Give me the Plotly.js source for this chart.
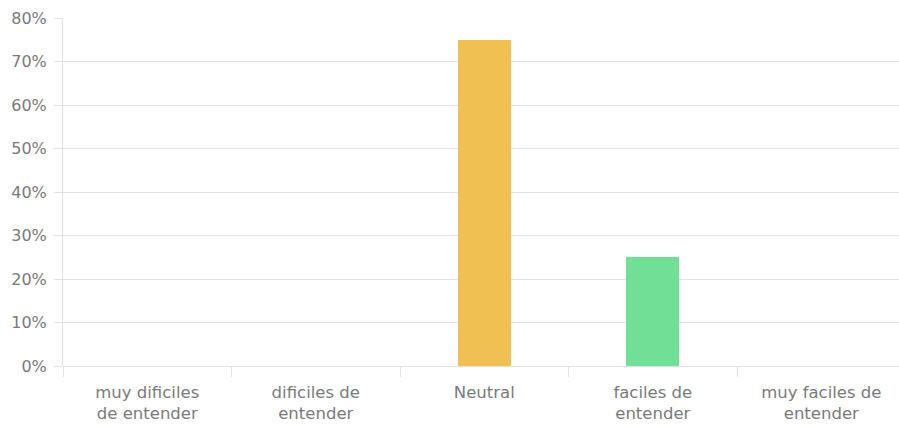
<!DOCTYPE html>
<html>
<head>
<meta charset="utf-8">
<script src="https://cdn.plot.ly/plotly-3.0.1.min.js"></script>
<style>
  html, body { margin: 0; padding: 0; background: #fff; }
  #chart { width: 899px; height: 430px; }
</style>
</head>
<body>
<div id="chart"></div>
<script>
// Answer categories and share of responses (%)
const categories = [
  "muy dificiles<br>de entender",
  "dificiles de<br>entender",
  "Neutral",
  "faciles de<br>entender",
  "muy faciles de<br>entender"
];
const percentages = [0, 0, 75, 25, 0];
const barColors = ["#F0C052", "#F0C052", "#F0C052", "#71E096", "#71E096"];
const yTickValues = [0, 10, 20, 30, 40, 50, 60, 70, 80];
const yTickLabels = ["0%", "10%", "20%", "30%", "40%", "50%", "60%", "70%", "80%"];

const gridColor = "#e2e2e2";
const fontFamily = "'DejaVu Sans', 'Liberation Sans', Arial, sans-serif";
const labelColor = "#7a7a7a";

const trace = {
  type: "bar",
  x: categories,
  y: percentages,
  width: 0.315,
  marker: { color: barColors, line: { width: 0 } },
  hoverinfo: "skip"
};

const layout = {
  width: 899,
  height: 430,
  margin: { l: 63, r: 0, t: 18, b: 64 },
  paper_bgcolor: "#ffffff",
  plot_bgcolor: "#ffffff",
  showlegend: false,
  bargap: 0,
  xaxis: {
    type: "category",
    range: [-0.5, 4.461],
    tickson: "boundaries",
    ticks: "outside",
    ticklen: 10,
    tickcolor: gridColor,
    tickwidth: 1,
    ticklabelstandoff: 14,
    showgrid: false,
    zeroline: false,
    showline: false,
    tickfont: { family: fontFamily, size: 16.5, color: labelColor },
    fixedrange: true
  },
  yaxis: {
    range: [0, 80],
    tickmode: "array",
    tickvals: yTickValues,
    ticktext: yTickLabels,
    ticks: "outside",
    ticklen: 8,
    tickcolor: gridColor,
    tickwidth: 1,
    ticklabelstandoff: 4,
    showgrid: true,
    gridcolor: gridColor,
    gridwidth: 1,
    zeroline: true,
    zerolinecolor: gridColor,
    zerolinewidth: 1,
    showline: true,
    linecolor: gridColor,
    linewidth: 1,
    tickfont: { family: fontFamily, size: 16, color: labelColor },
    fixedrange: true
  }
};

Plotly.newPlot("chart", [trace], layout, { displayModeBar: false, staticPlot: true });
</script>
</body>
</html>
